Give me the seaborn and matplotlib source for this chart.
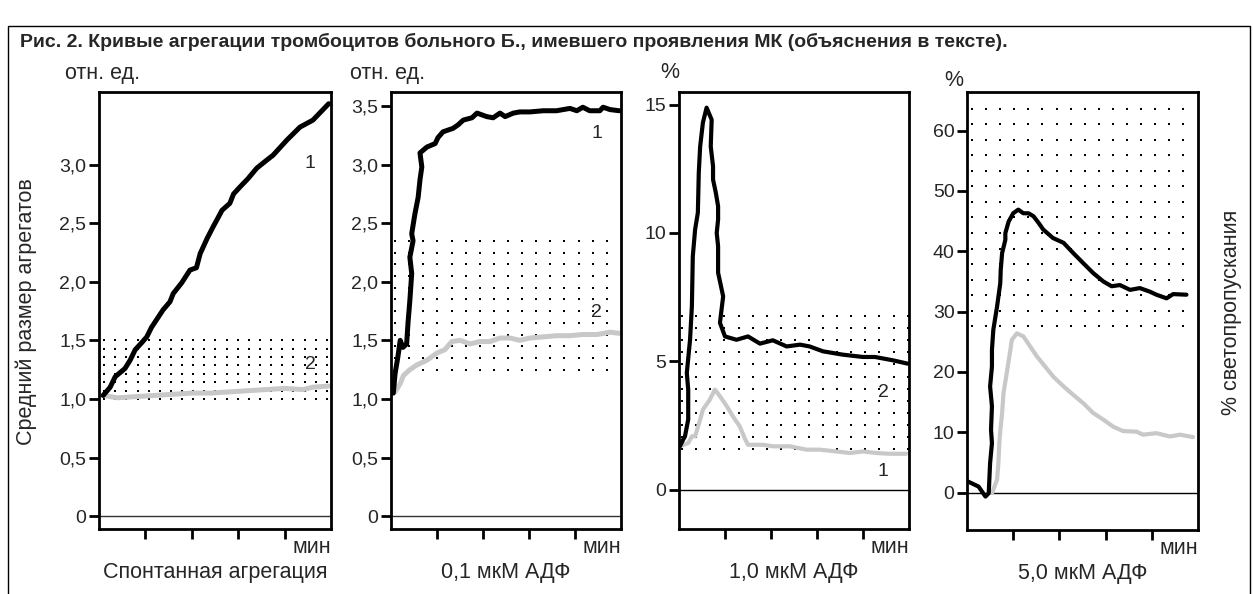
import numpy as np
import pandas as pd
import matplotlib
matplotlib.use("Agg")
import matplotlib.pyplot as plt
import matplotlib.patches as mpatches
import seaborn as sns

# ---------------- data ----------------
titles = ["Спонтанная агрегация", "0,1 мкМ АДФ", "1,0 мкМ АДФ", "5,0 мкМ АДФ"]
units = ["отн. ед.", "отн. ед.", "%", "%"]

p1_black_x = [0.09, 0.24, 0.35, 0.56, 0.67, 0.78, 0.92, 1.03, 1.13, 1.28, 1.38, 1.53, 1.60, 1.78, 1.96,
              2.10, 2.18, 2.33, 2.46, 2.57, 2.65, 2.82, 2.90, 3.04, 3.21, 3.40, 3.62, 3.75, 4.05, 4.33, 4.61, 4.95]
p1_black_y = [1.03, 1.10, 1.19, 1.26, 1.33, 1.42, 1.48, 1.53, 1.61, 1.70, 1.76, 1.83, 1.90, 1.99, 2.10,
              2.12, 2.24, 2.37, 2.47, 2.55, 2.61, 2.67, 2.75, 2.81, 2.88, 2.97, 3.04, 3.08, 3.21, 3.32, 3.38, 3.52]
p1_gray_x = [0.09, 0.4, 0.8, 1.2, 1.6, 2.0, 2.4, 2.8, 3.2, 3.6, 4.0, 4.4, 4.6, 4.95]
p1_gray_y = [1.03, 1.01, 1.02, 1.03, 1.04, 1.05, 1.05, 1.06, 1.07, 1.08, 1.09, 1.08, 1.10, 1.11]

p2_black_x = [0.05, 0.09, 0.15, 0.20, 0.26, 0.34, 0.37, 0.41, 0.45, 0.41, 0.48, 0.45, 0.52, 0.59, 0.63, 0.67,
              0.63, 0.78, 0.96, 1.02, 1.13, 1.35, 1.46, 1.57, 1.76, 1.87, 2.08, 2.22, 2.37, 2.48, 2.66, 2.80,
              3.02, 3.31, 3.60, 3.89, 4.04, 4.17, 4.32, 4.54, 4.61, 4.76, 4.96]
p2_black_y = [1.05, 1.22, 1.36, 1.50, 1.44, 1.47, 1.65, 1.84, 2.07, 2.21, 2.35, 2.41, 2.58, 2.72, 2.87, 2.98,
              3.10, 3.15, 3.18, 3.23, 3.28, 3.31, 3.34, 3.38, 3.40, 3.44, 3.41, 3.40, 3.44, 3.41, 3.44, 3.45,
              3.45, 3.46, 3.46, 3.48, 3.46, 3.49, 3.46, 3.46, 3.49, 3.47, 3.46]
p2_gray_x = [0.09, 0.20, 0.27, 0.41, 0.56, 0.78, 0.99, 1.17, 1.32, 1.50, 1.72, 1.93, 2.15, 2.37, 2.59, 2.80,
             3.02, 3.31, 3.60, 3.89, 4.17, 4.48, 4.76, 4.96]
p2_gray_y = [1.06, 1.13, 1.20, 1.25, 1.29, 1.33, 1.39, 1.42, 1.49, 1.50, 1.47, 1.49, 1.49, 1.52, 1.52, 1.50,
             1.52, 1.53, 1.54, 1.54, 1.55, 1.55, 1.57, 1.56]

p3_black_x = [0.02, 0.09, 0.13, 0.20, 0.20, 0.17, 0.24, 0.28, 0.30, 0.35, 0.41, 0.43, 0.46, 0.52, 0.60, 0.71,
              0.69, 0.74, 0.74, 0.80, 0.85, 0.85, 0.82, 0.85, 0.85, 0.96, 0.89, 1.00, 1.25, 1.50, 1.76, 2.04,
              2.34, 2.63, 2.84, 3.13, 3.56, 4.00, 4.26, 4.65, 4.97]
p3_black_y = [1.69, 1.95, 2.08, 2.73, 3.90, 4.55, 5.84, 7.14, 9.09, 10.13, 10.79, 12.35, 13.37, 14.30, 14.88,
              14.41, 13.37, 12.60, 12.08, 11.57, 11.04, 10.52, 10.00, 9.48, 8.45, 7.53, 6.50, 5.97, 5.84, 5.97,
              5.69, 5.82, 5.58, 5.65, 5.58, 5.39, 5.26, 5.17, 5.17, 5.04, 4.91]
p3_gray_x = [0.02, 0.20, 0.28, 0.35, 0.46, 0.52, 0.67, 0.78, 0.89, 1.04, 1.17, 1.32, 1.43, 1.50, 1.83, 2.04,
             2.41, 2.77, 3.06, 3.42, 3.71, 4.00, 4.29, 4.58, 4.94]
p3_gray_y = [1.69, 1.82, 2.08, 2.08, 2.73, 3.12, 3.51, 3.90, 3.64, 3.25, 2.86, 2.47, 2.00, 1.75, 1.75, 1.69,
             1.69, 1.56, 1.56, 1.49, 1.43, 1.49, 1.43, 1.40, 1.40]

p4_black_x = [0.03, 0.25, 0.40, 0.47, 0.50, 0.54, 0.52, 0.54, 0.50, 0.54, 0.54, 0.57, 0.65, 0.72, 0.73, 0.76,
              0.83, 0.83, 0.90, 1.00, 1.11, 1.22, 1.33, 1.44, 1.55, 1.65, 1.86, 2.09, 2.30, 2.52, 2.73, 2.95,
              3.13, 3.31, 3.53, 3.74, 3.96, 4.10, 4.32, 4.46, 4.75]
p4_black_y = [1.8, 1.0, -0.66, -0.1, 4.9, 8.2, 10.4, 14.3, 17.6, 20.9, 23.7, 27.0, 30.8, 34.7, 36.9, 39.7,
              41.9, 43.0, 44.9, 46.3, 46.9, 46.3, 46.3, 45.8, 44.7, 43.6, 42.2, 41.4, 39.7, 38.0, 36.4, 35.0,
              34.2, 34.4, 33.6, 33.9, 33.3, 32.8, 32.2, 32.9, 32.8]
p4_gray_x = [0.54, 0.65, 0.68, 0.70, 0.72, 0.76, 0.79, 0.86, 0.94, 0.97, 1.08, 1.22, 1.37, 1.51, 1.69, 1.87,
             2.09, 2.30, 2.52, 2.73, 2.95, 3.17, 3.38, 3.67, 3.81, 4.10, 4.39, 4.61, 4.89]
p4_gray_y = [-0.1, 2.1, 4.9, 8.2, 10.2, 13.2, 16.5, 19.8, 23.7, 25.3, 26.4, 25.9, 24.2, 22.6, 20.9, 19.2,
             17.6, 16.2, 14.8, 13.2, 12.1, 10.9, 10.2, 10.1, 9.6, 9.85, 9.3, 9.6, 9.2]

# normal-range bands (dotted areas): (x0, x1, y0, y1)
bands = [(0.11, 4.91, 1.0, 1.5), (0.09, 4.69, 1.25, 2.35), (0.07, 4.97, 1.6, 6.75), (0.11, 4.68, 27.6, 63.6)]
band_grid = [(21, 8), (16, 12), (17, 12), (16, 15)]

yticks = [[0, 0.5, 1.0, 1.5, 2.0, 2.5, 3.0],
          [0, 0.5, 1.0, 1.5, 2.0, 2.5, 3.0, 3.5],
          [0, 5, 10, 15],
          [0, 10, 20, 30, 40, 50, 60]]
ytick_labels = [["0", "0,5", "1,0", "1,5", "2,0", "2,5", "3,0"],
                ["0", "0,5", "1,0", "1,5", "2,0", "2,5", "3,0", "3,5"],
                ["0", "5", "10", "15"],
                ["0", "10", "20", "30", "40", "50", "60"]]
ylims = [(-0.11, 3.62), (-0.11, 3.62), (-1.53, 15.49), (-6.2, 66.4)]
curve_labels = [[("1", 4.55, 3.01), ("2", 4.55, 1.29)],
                [("1", 4.47, 3.27), ("2", 4.47, 1.74)],
                [("2", 4.44, 3.77), ("1", 4.44, 0.71)],
                []]

blacks = [(p1_black_x, p1_black_y), (p2_black_x, p2_black_y), (p3_black_x, p3_black_y), (p4_black_x, p4_black_y)]
grays = [(p1_gray_x, p1_gray_y), (p2_gray_x, p2_gray_y), (p3_gray_x, p3_gray_y), (p4_gray_x, p4_gray_y)]

# ---------------- style ----------------
sns.set_theme(style="white")
plt.rcParams["font.family"] = ["Liberation Sans", "DejaVu Sans"]
plt.rcParams["axes.linewidth"] = 2.0

W, H = 1253, 594
fig = plt.figure(figsize=(W / 100, H / 100), dpi=100)

# axes boxes in pixel coords (left, right, top, bottom)
boxes = [(99, 331, 92, 529), (391, 621, 92, 529), (679, 909, 92, 529), (967, 1198, 92, 530)]
line_w = [3.6, 3.6, 3.0, 3.0]

for i, (l, r, t, b) in enumerate(boxes):
    ax = fig.add_axes([l / W, 1 - b / H, (r - l) / W, (b - t) / H])
    ax.set_xlim(0, 5)
    ax.set_ylim(*ylims[i])
    # dotted band
    x0, x1, y0, y1 = bands[i]
    nx, ny = band_grid[i]
    gx, gy = np.meshgrid(np.linspace(x0, x1, nx), np.linspace(y0, y1, ny))
    ax.scatter(gx.ravel(), gy.ravel(), s=1.5, color="black", marker="s", linewidths=0, zorder=1)
    # zero line
    ax.axhline(0, color="#333333" if i < 2 else "black", lw=1.0, zorder=1)
    gx_, gy_ = grays[i]
    bx_, by_ = blacks[i]
    dg = pd.DataFrame({"x": gx_, "y": gy_})
    db = pd.DataFrame({"x": bx_, "y": by_})
    sns.lineplot(data=dg, x="x", y="y", sort=False, estimator=None, color="#c8c8c8",
                 lw=line_w[i], ax=ax, zorder=2, solid_joinstyle="round", solid_capstyle="round")
    sns.lineplot(data=db, x="x", y="y", sort=False, estimator=None, color="black",
                 lw=line_w[i], ax=ax, zorder=3, solid_joinstyle="round", solid_capstyle="round")
    ax.set_xlabel("")
    ax.set_ylabel("")
    ax.set_xticks([1, 2, 3, 4])
    ax.set_xticklabels([])
    ax.set_yticks(yticks[i])
    ax.set_yticklabels(ytick_labels[i])
    ax.tick_params(axis="both", which="major", direction="out", length=7, width=2.0,
                   color="black", labelsize=14, pad=2, left=True, bottom=True)
    for sp in ax.spines.values():
        sp.set_color("black")
        sp.set_linewidth(2.0)
    for txt, lx, ly in curve_labels[i]:
        ax.text(lx, ly, txt, fontsize=14, ha="center", va="center")
    ax.text(1.0, -0.042, "мин", transform=ax.transAxes, ha="right", va="center", fontsize=15.5)
    ax.text(0.5, -0.1, titles[i], transform=ax.transAxes, ha="center", va="center", fontsize=15.5)

# units above axes
unit_pos = [(65, 73), (350, 73), (660, 72), (944, 80)]
for u, (ux, uy) in zip(units, unit_pos):
    fig.text(ux / W, 1 - uy / H, u, ha="left", va="center", fontsize=15.5)

fig.text(26 / W, 1 - 312 / H, "Средний размер агрегатов", rotation=90, ha="center", va="center", fontsize=15.5)
fig.text(1232 / W, 1 - 312 / H, "% светопропускания", rotation=90, ha="center", va="center", fontsize=15.5)

fig.text(20 / W, 1 - 42 / H,
         "Рис. 2. Кривые агрегации тромбоцитов больного Б., имевшего проявления МК (объяснения в тексте).",
         ha="left", va="center", fontsize=14, fontweight="bold")

frame = mpatches.Rectangle((8 / W, -0.05), (1250 - 8) / W, 1.05 - 26 / H, transform=fig.transFigure,
                           fill=False, edgecolor="black", lw=1.0, clip_on=False)
fig.patches.append(frame)

fig.savefig("out.png", dpi=100)
